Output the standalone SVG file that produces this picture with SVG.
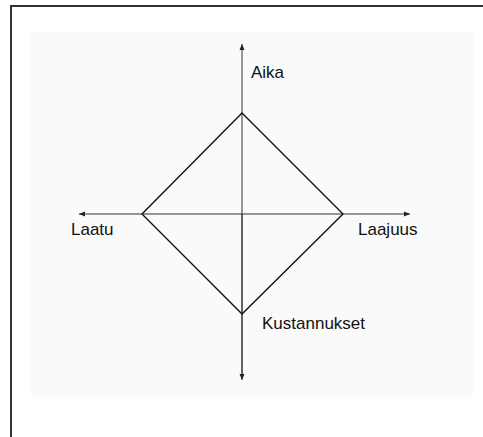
<svg xmlns="http://www.w3.org/2000/svg" width="483" height="437" viewBox="0 0 483 437">
<style>
.axis{stroke:#333;stroke-width:1;fill:none}
.dia{stroke:#111;stroke-width:1.4;fill:none}
.lbl{font-family:"Liberation Sans",Arial,sans-serif;font-size:17px;fill:#111}
</style>
<defs>
<marker id="ah" viewBox="0 0 6 6" refX="6" refY="3" markerWidth="6" markerHeight="6" markerUnits="userSpaceOnUse" orient="auto">
<path d="M0,0.5 L6,3 L0,5.5 Z" fill="#222"/>
</marker>
</defs>
<rect x="0" y="0" width="483" height="437" fill="#fff"/>
<rect x="31" y="32" width="442" height="365" fill="#fafafa"/>
<path d="M11,437 V6 H483" stroke="#333" stroke-width="2" fill="none"/>
<g id="connectors">
<line class="axis" x1="242" y1="379" x2="242" y2="44" marker-end="url(#ah)"/>
<line class="axis" x1="242" y1="214" x2="242" y2="380" marker-end="url(#ah)"/>
<line class="axis" x1="242" y1="214" x2="79" y2="214" marker-end="url(#ah)"/>
<line class="axis" x1="242" y1="214" x2="410" y2="214" marker-end="url(#ah)"/>
</g>
<g id="diamond">
<path class="dia" d="M242,113 L343,214 L242,314 L142,214 Z"/>
</g>
<g id="aika"><text class="lbl" x="251" y="78">Aika</text></g>
<g id="laatu"><text class="lbl" x="71" y="235">Laatu</text></g>
<g id="laajuus"><text class="lbl" x="358" y="235">Laajuus</text></g>
<g id="kustannukset"><text class="lbl" x="262" y="329">Kustannukset</text></g>
</svg>
